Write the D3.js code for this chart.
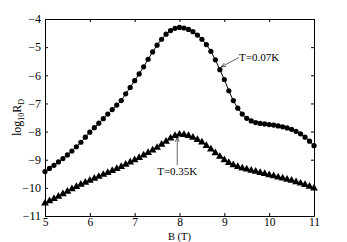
<!DOCTYPE html>
<html>
<head>
<meta charset="utf-8" />
<script src="https://cdn.jsdelivr.net/npm/d3@7"></script>
<style>
body { margin: 0; background: #fff; }
</style>
</head>
<body>
<div id="chart"></div>
<script>
var W = 347, H = 242;
var margin = {left: 45, right: 33, top: 19, bottom: 26};
var SERIF = "Liberation Serif, Times New Roman, serif";

// field values, 0.1 T steps
var bField = [5.0,5.1,5.2,5.3,5.4,5.5,5.6,5.7,5.8,5.9,6.0,6.1,6.2,6.3,6.4,6.5,6.6,6.7,6.8,6.9,
  7.0,7.1,7.2,7.3,7.4,7.5,7.6,7.7,7.8,7.9,8.0,8.1,8.2,8.3,8.4,8.5,8.6,8.7,8.8,8.9,
  9.0,9.1,9.2,9.3,9.4,9.5,9.6,9.7,9.8,9.9,10.0,10.1,10.2,10.3,10.4,10.5,10.6,10.7,10.8,10.9,11.0];

// T = 0.07 K (circles)
var logR007 = [-9.42,-9.31,-9.20,-9.08,-8.96,-8.83,-8.69,-8.54,-8.38,-8.20,
  -8.02,-7.86,-7.70,-7.54,-7.38,-7.22,-7.06,-6.90,-6.66,-6.43,
  -6.19,-5.95,-5.70,-5.43,-5.17,-4.93,-4.72,-4.54,-4.41,-4.33,
  -4.30,-4.32,-4.37,-4.45,-4.57,-4.72,-4.91,-5.15,-5.45,-5.80,
  -6.15,-6.55,-6.90,-7.17,-7.38,-7.53,-7.62,-7.68,-7.71,-7.73,
  -7.75,-7.77,-7.80,-7.83,-7.87,-7.92,-7.99,-8.08,-8.20,-8.34,-8.50];

// T = 0.35 K (triangles)
var logR035 = [-10.55,-10.47,-10.39,-10.31,-10.22,-10.13,-10.04,-9.96,-9.88,-9.81,
  -9.74,-9.67,-9.60,-9.53,-9.46,-9.39,-9.32,-9.25,-9.17,-9.09,
  -9.01,-8.93,-8.84,-8.75,-8.66,-8.57,-8.46,-8.35,-8.24,-8.15,
  -8.10,-8.11,-8.15,-8.21,-8.29,-8.38,-8.50,-8.63,-8.76,-8.89,
  -9.01,-9.11,-9.19,-9.25,-9.30,-9.34,-9.38,-9.42,-9.46,-9.50,
  -9.54,-9.58,-9.62,-9.66,-9.70,-9.74,-9.79,-9.84,-9.89,-9.95,-10.01];

var xTicks = [5,6,7,8,9,10,11];
var yTicks = [-11,-10,-9,-8,-7,-6,-5,-4];

var svg = d3.select("#chart").append("svg")
  .attr("width", W).attr("height", H);

var x = d3.scaleLinear().domain([5, 11]).range([margin.left, W - margin.right]);
var y = d3.scaleLinear().domain([-11, -4]).range([H - margin.bottom, margin.top]);

var fmt = function(d) { return String(d).replace("-", "\u2212"); };

// axes, ticks inward on all four sides
var gx = svg.append("g").attr("transform", "translate(0," + y(-11) + ")")
  .call(d3.axisBottom(x).tickValues(xTicks).tickSizeInner(-3).tickSizeOuter(0).tickPadding(2).tickFormat(fmt));
svg.append("g").attr("transform", "translate(0," + y(-4) + ")")
  .call(d3.axisTop(x).tickValues(xTicks).tickSizeInner(-3).tickSizeOuter(0).tickFormat(""));
var gy = svg.append("g").attr("transform", "translate(" + x(5) + ",0)")
  .call(d3.axisLeft(y).tickValues(yTicks).tickSizeInner(-3).tickSizeOuter(0).tickPadding(4).tickFormat(fmt));
svg.append("g").attr("transform", "translate(" + x(11) + ",0)")
  .call(d3.axisRight(y).tickValues(yTicks).tickSizeInner(-3).tickSizeOuter(0).tickFormat(""));

svg.selectAll(".domain").attr("stroke", "#000").attr("stroke-width", 1);
svg.selectAll(".tick line").attr("stroke", "#000");
svg.selectAll("g").attr("font-family", SERIF);
gx.attr("font-size", 11.5);
gy.attr("font-size", 12);
svg.selectAll(".tick text").attr("fill", "#000");

// axis titles
svg.append("text").attr("font-family", SERIF).attr("font-size", 10.5)
  .attr("x", x(8)).attr("y", 239.5).attr("text-anchor", "middle").text("B (T)");

var yl = svg.append("text").attr("font-family", SERIF).attr("font-size", 12)
  .attr("transform", "translate(21," + y(-7.5) + ") rotate(-90)")
  .attr("text-anchor", "middle");
yl.append("tspan").text("log");
yl.append("tspan").attr("font-size", "8px").attr("dy", 3).text("10");
yl.append("tspan").attr("dy", -3).text("R");
yl.append("tspan").attr("font-size", "8px").attr("dy", 3).text("D");

// series
var line = d3.line().x(function(d) { return x(d[0]); }).y(function(d) { return y(d[1]); });
var s007 = bField.map(function(b, i) { return [b, logR007[i]]; });
var s035 = bField.map(function(b, i) { return [b, logR035[i]]; });

svg.append("path").datum(s007).attr("d", line)
  .attr("fill", "none").attr("stroke", "#000").attr("stroke-width", 1);
svg.append("path").datum(s035).attr("d", line)
  .attr("fill", "none").attr("stroke", "#000").attr("stroke-width", 1);

svg.selectAll("circle.m").data(s007).enter().append("circle")
  .attr("class", "m")
  .attr("cx", function(d) { return x(d[0]); })
  .attr("cy", function(d) { return y(d[1]); })
  .attr("r", 2.6).attr("fill", "#000");

var tri = d3.symbol().type(d3.symbolTriangle).size(26);
svg.selectAll("path.t").data(s035).enter().append("path")
  .attr("class", "t")
  .attr("d", tri)
  .attr("transform", function(d) { return "translate(" + x(d[0]) + "," + y(d[1]) + ")"; })
  .attr("fill", "#000");

// annotations
function arrow(x1, y1, x2, y2) {
  svg.append("line").attr("x1", x1).attr("y1", y1).attr("x2", x2).attr("y2", y2)
    .attr("stroke", "#000").attr("stroke-width", 0.6);
  var a = Math.atan2(y2 - y1, x2 - x1), L = 5, sp = 0.4;
  svg.append("polyline")
    .attr("points", [
      [x2 - L * Math.cos(a - sp), y2 - L * Math.sin(a - sp)],
      [x2, y2],
      [x2 - L * Math.cos(a + sp), y2 - L * Math.sin(a + sp)]
    ].map(function(p) { return p.join(","); }).join(" "))
    .attr("fill", "none").attr("stroke", "#000").attr("stroke-width", 0.6);
}

arrow(239, 57.5, x(8.93), y(-5.7));
svg.append("text").attr("font-family", SERIF).attr("font-size", 11)
  .attr("x", 239).attr("y", 61).text("T=0.07K");

arrow(x(7.95), 165, x(7.95), y(-8.2));
svg.append("text").attr("font-family", SERIF).attr("font-size", 11)
  .attr("x", x(7.95)).attr("y", 175).attr("text-anchor", "middle").text("T=0.35K");
</script>
</body>
</html>
